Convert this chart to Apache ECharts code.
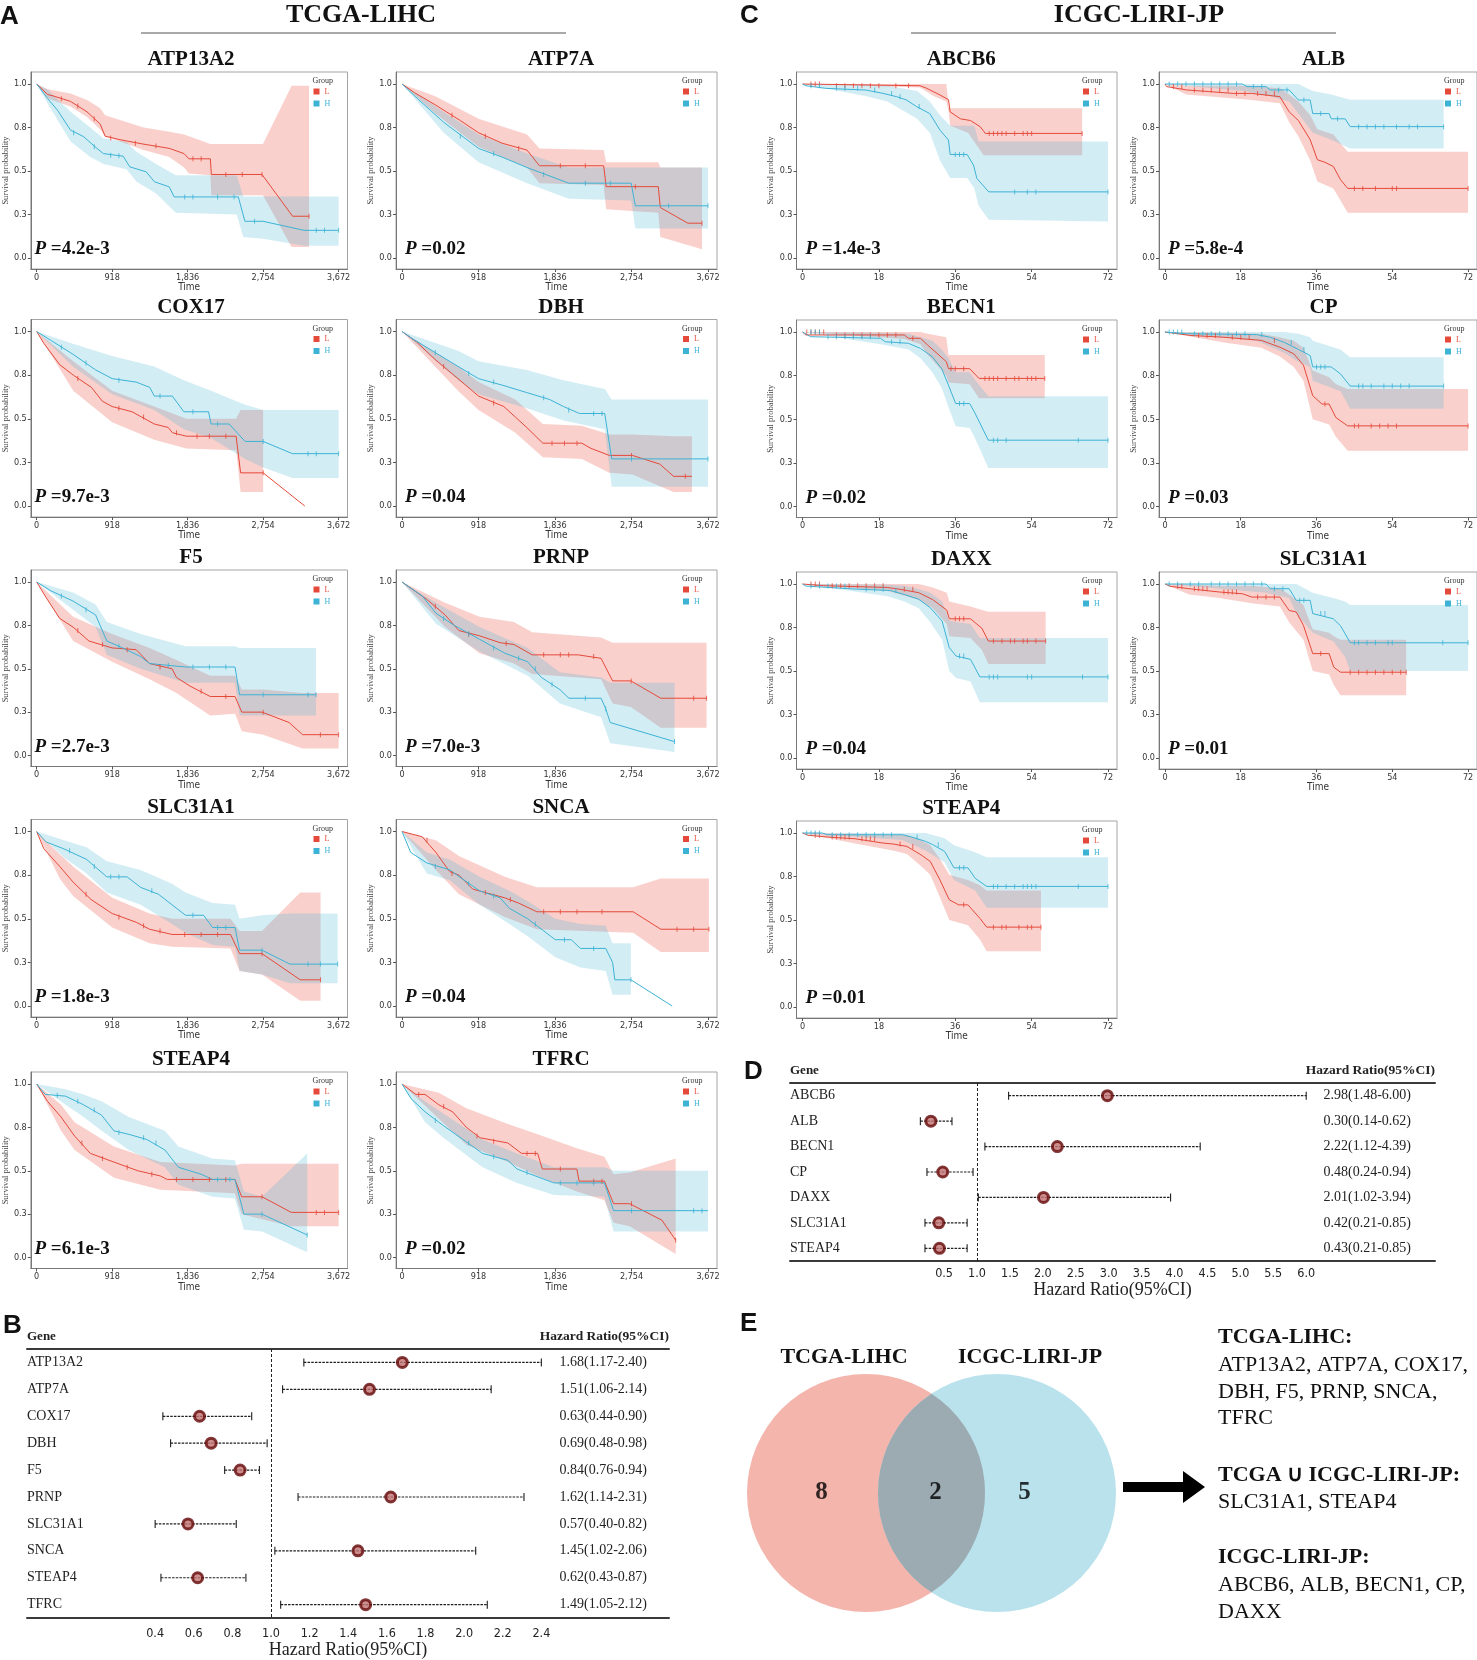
<!DOCTYPE html>
<html>
<head>
<meta charset="utf-8">
<script src="https://cdn.jsdelivr.net/npm/echarts@6/dist/echarts.min.js"></script>
<style>
  html, body { margin: 0; background: #fff; }
  #main { width: 1477px; height: 1660px; }
</style>
</head>
<body>
<div id="main"></div>
<script>
// ---------- KM data : line = [time, surv], ci = [time, lower, upper], cens = [time, surv] ----------
// TCGA-LIHC (days)
const t_atp13a2_L = [[0,1],[132,0.94],[212,0.93],[412,0.90],[612,0.84],[772,0.77],[832,0.70],[1012,0.68],[1292,0.655],[1612,0.63],[1792,0.60],[1852,0.57],[2112,0.57],[2124,0.48],[2740,0.48],[3112,0.24],[3312,0.24]];
const t_atp13a2_Lci = [[0,1,1],[132,0.917,0.97],[412,0.87,0.946],[612,0.81,0.908],[772,0.74,0.86],[832,0.70,0.82],[1300,0.62,0.75],[1612,0.58,0.725],[1792,0.52,0.71],[1852,0.486,0.70],[2112,0.476,0.655],[2124,0.36,0.655],[2752,0.36,0.655],[3100,0.063,0.99],[3312,0.063,0.99]];
const t_atp13a2_Lc = [[300,0.915],[500,0.874],[700,0.80],[900,0.69],[1200,0.66],[1450,0.643],[1900,0.57],[2000,0.57],[2300,0.48],[2500,0.48],[2740,0.48],[3312,0.24]];
const t_atp13a2_H = [[0,1],[132,0.917],[252,0.85],[412,0.735],[572,0.697],[732,0.63],[812,0.60],[1052,0.585],[1132,0.524],[1332,0.495],[1432,0.438],[1612,0.409],[1672,0.351],[2452,0.351],[2532,0.211],[2752,0.211],[3252,0.159],[3672,0.159]];
const t_atp13a2_Hci = [[0,1,1],[132,0.89,0.968],[412,0.67,0.84],[652,0.58,0.75],[812,0.54,0.687],[1092,0.51,0.667],[1212,0.44,0.61],[1452,0.37,0.54],[1692,0.26,0.476],[2432,0.25,0.476],[2512,0.12,0.354],[2752,0.11,0.354],[3252,0.07,0.354],[3672,0.07,0.354]];
const t_atp13a2_Hc = [[450,0.72],[700,0.64],[900,0.59],[1000,0.587],[1800,0.351],[1900,0.351],[2200,0.351],[2400,0.351],[2650,0.211],[3400,0.159],[3500,0.159],[3672,0.159]];

const t_atp7a_L = [[0,1],[150,0.95],[400,0.88],[700,0.79],[918,0.72],[1200,0.66],[1500,0.62],[1650,0.53],[2420,0.53],[2450,0.41],[3075,0.41],[3100,0.29],[3430,0.2],[3600,0.2]];
const t_atp7a_Lci = [[0,1,1],[400,0.83,0.93],[918,0.64,0.80],[1500,0.52,0.71],[1650,0.43,0.63],[2420,0.42,0.62],[2450,0.28,0.55],[3075,0.26,0.55],[3100,0.12,0.52],[3600,0.05,0.52]];
const t_atp7a_Lc = [[600,0.82],[1000,0.70],[1400,0.63],[1900,0.53],[2200,0.53],[2800,0.41],[3600,0.2]];
const t_atp7a_H = [[0,1],[200,0.91],[500,0.78],[918,0.63],[1200,0.58],[1500,0.52],[1836,0.46],[2000,0.43],[2750,0.43],[2800,0.3],[3672,0.3]];
const t_atp7a_Hci = [[0,1,1],[500,0.72,0.84],[918,0.55,0.71],[1500,0.43,0.60],[2000,0.34,0.52],[2750,0.33,0.52],[2800,0.17,0.52],[3672,0.17,0.52]];
const t_atp7a_Hc = [[700,0.70],[1100,0.60],[1700,0.48],[2200,0.43],[2500,0.43],[3200,0.3],[3672,0.3]];

const t_cox17_L = [[0,1],[90,0.93],[280,0.81],[445,0.75],[665,0.68],[800,0.60],[918,0.57],[1160,0.54],[1430,0.47],[1600,0.45],[1650,0.42],[1820,0.40],[2425,0.40],[2480,0.19],[2754,0.19],[3260,0]];
const t_cox17_Lci = [[0,1,1],[445,0.66,0.83],[918,0.48,0.66],[1430,0.38,0.57],[1820,0.33,0.50],[2425,0.32,0.50],[2480,0.08,0.55],[2754,0.08,0.55]];
const t_cox17_Lc = [[500,0.73],[1000,0.56],[1300,0.51],[1700,0.42],[1950,0.40],[2100,0.40],[2300,0.40],[2754,0.19]];
const t_cox17_H = [[0,1],[170,0.95],[440,0.87],[716,0.78],[918,0.73],[1210,0.71],[1375,0.68],[1430,0.63],[1650,0.63],[1790,0.54],[2090,0.54],[2120,0.47],[2340,0.47],[2535,0.37],[2754,0.37],[3110,0.30],[3672,0.30]];
const t_cox17_Hci = [[0,1,1],[440,0.80,0.93],[918,0.64,0.86],[1430,0.55,0.80],[1790,0.44,0.72],[2120,0.39,0.66],[2535,0.27,0.58],[2754,0.22,0.55],[3110,0.16,0.55],[3672,0.16,0.55]];
const t_cox17_Hc = [[300,0.91],[600,0.82],[1000,0.72],[1500,0.63],[1900,0.54],[2200,0.47],[2754,0.37],[3300,0.30],[3400,0.30],[3672,0.30]];

const t_dbh_L = [[0,1],[176,0.94],[396,0.84],[672,0.73],[918,0.63],[1222,0.57],[1360,0.51],[1497,0.45],[1690,0.36],[2158,0.36],[2268,0.33],[2488,0.29],[2763,0.29],[3094,0.24],[3259,0.17],[3479,0.17]];
const t_dbh_Lci = [[0,1,1],[672,0.66,0.80],[918,0.55,0.71],[1360,0.42,0.61],[1690,0.28,0.47],[2158,0.27,0.46],[2488,0.19,0.41],[2763,0.18,0.41],[3259,0.08,0.40],[3479,0.08,0.40]];
const t_dbh_Lc = [[500,0.80],[1100,0.59],[1800,0.36],[1950,0.36],[2100,0.36],[2754,0.29],[3400,0.17]];
const t_dbh_H = [[0,1],[120,0.96],[396,0.88],[672,0.80],[918,0.73],[1222,0.69],[1497,0.65],[1773,0.61],[1938,0.57],[2130,0.53],[2433,0.53],[2516,0.27],[3672,0.27]];
const t_dbh_Hci = [[0,1,1],[672,0.72,0.89],[918,0.64,0.83],[1497,0.56,0.78],[1938,0.49,0.72],[2433,0.44,0.67],[2516,0.11,0.61],[3672,0.11,0.61]];
const t_dbh_Hc = [[400,0.88],[800,0.76],[1100,0.71],[1700,0.62],[2000,0.55],[2300,0.53],[2400,0.53],[2754,0.27],[3672,0.27]];

const t_f5_L = [[0,1],[115,0.91],[280,0.79],[443,0.74],[635,0.66],[918,0.62],[1210,0.61],[1373,0.53],[1646,0.50],[1700,0.45],[1865,0.40],[2110,0.34],[2412,0.34],[2494,0.25],[2740,0.25],[3070,0.19],[3233,0.12],[3672,0.12]];
const t_f5_Lci = [[0,1,1],[443,0.66,0.80],[918,0.54,0.70],[1373,0.44,0.62],[1700,0.36,0.55],[2110,0.23,0.46],[2412,0.24,0.46],[2494,0.14,0.38],[2754,0.12,0.38],[3233,0.04,0.36],[3672,0.04,0.36]];
const t_f5_Lc = [[500,0.72],[800,0.64],[1100,0.61],[1500,0.51],[2000,0.37],[2300,0.34],[2754,0.25],[3450,0.12],[3672,0.12]];
const t_f5_H = [[0,1],[170,0.95],[443,0.89],[717,0.81],[853,0.66],[1045,0.62],[1264,0.57],[1373,0.53],[1810,0.51],[2412,0.51],[2467,0.35],[3397,0.35]];
const t_f5_Hci = [[0,1,1],[443,0.84,0.94],[717,0.74,0.87],[853,0.58,0.77],[1264,0.50,0.70],[1810,0.42,0.63],[2412,0.42,0.63],[2467,0.23,0.62],[3397,0.23,0.62]];
const t_f5_Hc = [[300,0.92],[600,0.84],[1000,0.63],[1600,0.52],[1900,0.51],[2100,0.51],[2300,0.51],[2754,0.35],[3300,0.35],[3397,0.35]];

const t_prnp_L = [[0,1],[297,0.90],[517,0.81],[683,0.72],[930,0.69],[1178,0.65],[1343,0.64],[1563,0.58],[2114,0.58],[2389,0.56],[2527,0.43],[2747,0.43],[3105,0.33],[3655,0.33]];
const t_prnp_Lci = [[0,1,1],[517,0.74,0.88],[930,0.59,0.80],[1343,0.53,0.77],[1563,0.47,0.71],[2389,0.44,0.68],[2527,0.30,0.65],[2747,0.28,0.65],[3105,0.16,0.65],[3655,0.16,0.65]];
const t_prnp_Lc = [[400,0.86],[800,0.70],[1250,0.645],[1700,0.58],[1900,0.58],[2000,0.58],[2300,0.57],[2750,0.43],[3500,0.33],[3655,0.33]];
const t_prnp_H = [[0,1],[242,0.92],[407,0.82],[627,0.75],[930,0.67],[1233,0.59],[1508,0.54],[1673,0.45],[1894,0.38],[2004,0.33],[2389,0.33],[2444,0.27],[2499,0.19],[3270,0.08]];
const t_prnp_Hci = [[0,1,1],[407,0.76,0.88],[930,0.60,0.74],[1508,0.46,0.62],[1894,0.30,0.48],[2389,0.22,0.45],[2499,0.07,0.42],[3270,0.02,0.42]];
const t_prnp_Hc = [[500,0.79],[800,0.70],[1100,0.62],[1400,0.56],[1600,0.50],[1800,0.41],[2200,0.33],[2444,0.27],[3270,0.08]];

const t_slc31a1_L = [[0,1],[88,0.90],[280,0.80],[443,0.71],[662,0.61],[918,0.53],[1210,0.48],[1373,0.44],[1646,0.41],[2357,0.41],[2467,0.30],[2740,0.30],[3205,0.15],[3452,0.15]];
const t_slc31a1_Lci = [[0,1,1],[280,0.73,0.87],[443,0.63,0.80],[918,0.45,0.62],[1373,0.36,0.53],[1646,0.34,0.50],[2357,0.33,0.50],[2467,0.20,0.43],[2740,0.18,0.43],[3205,0.03,0.65],[3452,0.03,0.65]];
const t_slc31a1_Lc = [[600,0.64],[1000,0.51],[1300,0.46],[1500,0.43],[1800,0.41],[2000,0.41],[2200,0.41],[2740,0.30],[3452,0.15]];
const t_slc31a1_H = [[0,1],[115,0.94],[334,0.90],[607,0.84],[853,0.74],[1100,0.74],[1264,0.68],[1482,0.64],[1646,0.58],[1810,0.52],[2030,0.52],[2139,0.45],[2412,0.45],[2467,0.32],[2740,0.32],[3080,0.24],[3660,0.24]];
const t_slc31a1_Hci = [[0,1,1],[334,0.85,0.95],[607,0.76,0.91],[853,0.65,0.83],[1264,0.58,0.78],[1646,0.47,0.70],[1810,0.42,0.65],[2139,0.35,0.59],[2412,0.34,0.58],[2467,0.20,0.50],[2740,0.18,0.52],[3080,0.13,0.53],[3660,0.13,0.53]];
const t_slc31a1_Hc = [[400,0.89],[700,0.80],[900,0.74],[1000,0.74],[1400,0.66],[1900,0.52],[2200,0.45],[2300,0.45],[2740,0.32],[3300,0.24],[3450,0.24],[3660,0.24]];

const t_snca_L = [[0,1],[242,0.97],[407,0.88],[572,0.77],[683,0.75],[848,0.67],[1233,0.62],[1398,0.59],[1618,0.54],[2774,0.54],[3105,0.44],[3683,0.44]];
const t_snca_Lci = [[0,1,1],[407,0.78,0.95],[683,0.64,0.86],[1233,0.51,0.74],[1618,0.44,0.68],[2774,0.42,0.68],[3105,0.31,0.73],[3683,0.31,0.73]];
const t_snca_Lc = [[300,0.95],[600,0.76],[1000,0.65],[1300,0.61],[1700,0.54],[1900,0.54],[2100,0.54],[2400,0.54],[3300,0.44],[3500,0.44],[3683,0.44]];
const t_snca_H = [[0,1],[105,0.88],[297,0.82],[572,0.78],[930,0.66],[1178,0.62],[1288,0.56],[1508,0.50],[1701,0.43],[1839,0.38],[2031,0.38],[2141,0.33],[2444,0.33],[2527,0.25],[2554,0.15],[2747,0.15],[3242,0]];
const t_snca_Hci = [[0,1,1],[297,0.76,0.88],[572,0.72,0.84],[930,0.58,0.74],[1288,0.47,0.66],[1508,0.40,0.60],[1839,0.28,0.50],[2141,0.22,0.47],[2444,0.20,0.46],[2527,0.065,0.36],[2747,0.065,0.36]];
const t_snca_Hc = [[400,0.80],[800,0.70],[1100,0.63],[1600,0.47],[1950,0.38],[2300,0.33],[2747,0.15]];

const t_steap4_L = [[0,1],[132,0.90],[296,0.81],[461,0.70],[653,0.60],[939,0.55],[1230,0.50],[1504,0.47],[1587,0.45],[2410,0.45],[2493,0.35],[2740,0.35],[3096,0.26],[3672,0.26]];
const t_steap4_Lci = [[0,1,1],[296,0.73,0.88],[461,0.62,0.78],[939,0.46,0.64],[1504,0.39,0.55],[2410,0.37,0.53],[2493,0.25,0.54],[2740,0.22,0.54],[3096,0.18,0.54],[3672,0.18,0.54]];
const t_steap4_Lc = [[550,0.66],[800,0.57],[1100,0.52],[1400,0.48],[1700,0.45],[1900,0.45],[2100,0.45],[2300,0.45],[2740,0.35],[3400,0.26],[3500,0.26],[3672,0.26]];
const t_steap4_H = [[0,1],[104,0.94],[351,0.93],[571,0.88],[790,0.82],[939,0.73],[1120,0.71],[1340,0.68],[1559,0.62],[1724,0.52],[2000,0.48],[2136,0.45],[2410,0.45],[2520,0.25],[2740,0.25],[3289,0.13]];
const t_steap4_Hci = [[0,1,1],[351,0.88,0.97],[571,0.81,0.94],[790,0.73,0.90],[1120,0.62,0.81],[1559,0.52,0.73],[1724,0.42,0.64],[2136,0.35,0.57],[2410,0.34,0.56],[2520,0.16,0.38],[2740,0.15,0.35],[3289,0.03,0.60]];
const t_steap4_Hc = [[250,0.935],[500,0.90],[700,0.85],[1000,0.72],[1300,0.69],[1450,0.66],[2200,0.45],[2350,0.45],[2740,0.25],[3289,0.13]];

const t_tfrc_L = [[0,1],[166,0.94],[276,0.94],[442,0.88],[607,0.84],[773,0.75],[938,0.69],[1270,0.66],[1435,0.60],[1628,0.60],[1684,0.51],[2098,0.51],[2125,0.44],[2429,0.44],[2539,0.31],[2732,0.31],[3119,0.215],[3284,0.10]];
const t_tfrc_Lci = [[0,1,1],[442,0.80,0.95],[773,0.65,0.86],[1270,0.55,0.77],[1628,0.47,0.71],[2098,0.38,0.63],[2429,0.33,0.58],[2539,0.20,0.48],[2732,0.18,0.49],[3284,0.02,0.57]];
const t_tfrc_Lc = [[200,0.94],[500,0.87],[900,0.70],[1100,0.67],[1500,0.60],[1600,0.60],[1900,0.51],[2300,0.44],[2400,0.44],[2754,0.31],[3284,0.10]];
const t_tfrc_H = [[0,1],[110,0.915],[276,0.84],[497,0.76],[718,0.685],[966,0.60],[1270,0.56],[1380,0.51],[1600,0.47],[1822,0.43],[2429,0.43],[2539,0.27],[3672,0.27]];
const t_tfrc_Hci = [[0,1,1],[276,0.78,0.90],[497,0.69,0.83],[718,0.61,0.76],[966,0.52,0.68],[1380,0.43,0.60],[1822,0.36,0.52],[2429,0.35,0.52],[2539,0.15,0.50],[3672,0.15,0.50]];
const t_tfrc_Hc = [[400,0.79],[800,0.66],[1100,0.58],[1500,0.49],[1900,0.43],[2100,0.43],[2300,0.43],[2754,0.27],[3500,0.27],[3600,0.27]];

// ICGC-LIRI-JP (months)
const i_abcb6_L = [[0,1],[27.7,0.99],[29.3,0.975],[32.4,0.937],[34.4,0.91],[34.8,0.84],[37.2,0.80],[39.6,0.79],[41.9,0.754],[43.1,0.716],[65.9,0.716]];
const i_abcb6_Lci = [[0,1,1],[27.7,0.98,1],[31,0.93,1],[33.9,0.90,1],[34.5,0.83,0.86],[34.8,0.76,0.86],[39,0.72,0.86],[42.7,0.59,0.86],[65.9,0.59,0.86]];
const i_abcb6_Lc = [[2,1],[3,1],[4,1],[8,0.99],[10,0.99],[12,0.99],[14,0.99],[16,0.99],[18,0.99],[22,0.99],[25,0.99],[44,0.716],[45,0.716],[46,0.716],[47,0.716],[48,0.716],[50,0.716],[52,0.716],[53,0.716],[54,0.716],[65.9,0.716]];
const i_abcb6_H = [[0,1],[0.8,0.99],[5.5,0.975],[15,0.965],[19,0.946],[22.2,0.927],[24.5,0.908],[26.9,0.87],[30,0.83],[32.4,0.735],[34.4,0.678],[34.8,0.595],[38.8,0.595],[40.3,0.534],[41.1,0.457],[43.9,0.38],[72,0.38]];
const i_abcb6_Hci = [[0,1,1],[15,0.93,0.995],[20,0.90,0.99],[27,0.80,0.96],[30,0.72,0.90],[32.4,0.56,0.82],[34.8,0.46,0.76],[38.8,0.46,0.76],[40.5,0.40,0.76],[41.5,0.30,0.67],[43.9,0.22,0.67],[72,0.21,0.67]];
const i_abcb6_Hc = [[2,0.99],[4,0.99],[8,0.975],[10,0.975],[13,0.975],[17,0.965],[21,0.946],[23,0.927],[27.5,0.87],[36,0.595],[37,0.595],[38,0.595],[50,0.38],[53,0.38],[55,0.38],[72,0.38]];

const i_alb_L = [[0,1],[0.4,0.985],[5.1,0.966],[16.2,0.946],[20.6,0.946],[27.3,0.927],[29.5,0.84],[31.7,0.79],[34.5,0.68],[36.2,0.565],[38,0.55],[40,0.526],[41.7,0.45],[43.4,0.40],[72,0.40]];
const i_alb_Lci = [[0,1,1],[5,0.94,0.99],[20,0.91,0.99],[27.3,0.89,0.975],[29.5,0.78,0.94],[31.7,0.70,0.90],[34.5,0.56,0.82],[36.2,0.44,0.74],[40,0.40,0.71],[41.7,0.33,0.66],[43.4,0.26,0.61],[72,0.26,0.61]];
const i_alb_Lc = [[2,0.985],[4,0.985],[7,0.966],[9,0.966],[11,0.966],[13,0.966],[15,0.966],[17,0.946],[19,0.946],[22,0.946],[24,0.946],[26,0.946],[45,0.40],[47,0.40],[50,0.40],[54,0.40],[55,0.40],[72,0.40]];
const i_alb_H = [[0,1],[18.4,1],[19.5,0.985],[24,0.985],[25,0.966],[29.5,0.966],[31.7,0.908],[34.5,0.908],[35.1,0.83],[39,0.83],[39.5,0.80],[42.8,0.80],[44,0.755],[66.2,0.755]];
const i_alb_Hci = [[0,1,1],[19,0.96,1],[25,0.93,1],[29.5,0.90,1],[31.7,0.83,1],[35.1,0.72,0.96],[39.5,0.68,0.94],[44,0.63,0.91],[66.2,0.63,0.91]];
const i_alb_Hc = [[1,1],[3,1],[5,1],[7,1],[9,1],[11,1],[13,1],[15,1],[17,1],[21,0.985],[23,0.985],[27,0.966],[29,0.966],[33,0.908],[37,0.83],[41,0.80],[46,0.755],[48,0.755],[50,0.755],[52,0.755],[55,0.755],[58,0.755],[60,0.755],[66.2,0.755]];

const i_becn1_L = [[0,1],[0.8,0.983],[24,0.983],[25,0.964],[27.8,0.964],[29.5,0.925],[33.9,0.83],[34.4,0.79],[39.4,0.79],[41.6,0.734],[57.1,0.734]];
const i_becn1_Lci = [[0,1,1],[24,0.96,1],[27.8,0.93,1],[29.5,0.87,0.99],[33.9,0.75,0.97],[34.4,0.71,0.868],[39.4,0.70,0.868],[41.6,0.62,0.868],[57.1,0.62,0.868]];
const i_becn1_Lc = [[1,1],[2,1],[3,1],[4,1],[5,1],[8,0.983],[10,0.983],[12,0.983],[14,0.983],[16,0.983],[18,0.983],[20,0.983],[22,0.983],[26,0.964],[35,0.79],[36,0.79],[38,0.79],[43,0.734],[44,0.734],[45,0.734],[46,0.734],[48,0.734],[50,0.734],[51,0.734],[53,0.734],[54,0.734],[55,0.734],[57.1,0.734]];
const i_becn1_H = [[0,1],[1.9,0.973],[18.4,0.964],[19.5,0.944],[25,0.935],[27.8,0.906],[30.6,0.858],[32.8,0.79],[34.4,0.695],[36.1,0.59],[39.4,0.59],[40.5,0.542],[43.8,0.38],[72,0.38]];
const i_becn1_Hci = [[0,1,1],[18.4,0.93,0.995],[25,0.90,0.99],[27.8,0.85,0.97],[30.6,0.77,0.95],[32.8,0.68,0.90],[34.4,0.57,0.85],[36.1,0.46,0.77],[39.4,0.45,0.77],[40.5,0.40,0.73],[43.8,0.22,0.632],[72,0.22,0.632]];
const i_becn1_Hc = [[2,1],[3,1],[4,1],[6,0.973],[8,0.973],[10,0.973],[12,0.973],[14,0.973],[16,0.973],[21,0.944],[23,0.944],[37,0.59],[38,0.59],[45,0.38],[46,0.38],[48,0.38],[65,0.38],[72,0.38]];

const i_cp_L = [[0,1],[6.2,0.98],[14,0.97],[22.9,0.952],[27.3,0.913],[30.6,0.875],[32.9,0.81],[35.1,0.635],[37.3,0.587],[39,0.587],[40.6,0.51],[43.4,0.462],[72,0.462]];
const i_cp_Lci = [[0,1,1],[14,0.94,0.995],[22.9,0.91,0.99],[27.3,0.86,0.97],[30.6,0.80,0.95],[32.9,0.72,0.91],[35.1,0.50,0.78],[39,0.47,0.74],[40.6,0.40,0.70],[43.4,0.32,0.673],[72,0.32,0.673]];
const i_cp_Lc = [[8,0.98],[10,0.98],[12,0.98],[16,0.97],[18,0.97],[20,0.97],[26,0.952],[38,0.587],[45,0.462],[46,0.462],[49,0.462],[51,0.462],[53,0.462],[55,0.462],[72,0.462]];
const i_cp_H = [[0,1],[5.1,0.99],[21.8,0.985],[25,0.97],[28.4,0.94],[31.7,0.90],[34.5,0.865],[35.1,0.80],[39.5,0.80],[41.7,0.76],[44,0.69],[66.2,0.69]];
const i_cp_Hci = [[0,1,1],[21.8,0.95,1],[28.4,0.88,1],[31.7,0.83,0.99],[34.5,0.80,0.97],[35.1,0.72,0.95],[41.7,0.66,0.90],[44,0.56,0.856],[66.2,0.56,0.856]];
const i_cp_Hc = [[1,1],[2,1],[3,1],[4,1],[7,0.99],[9,0.99],[11,0.99],[13,0.99],[15,0.99],[17,0.99],[19,0.99],[23,0.985],[30,0.94],[33,0.90],[36,0.80],[37,0.80],[38,0.80],[46,0.69],[47,0.69],[49,0.69],[52,0.69],[54,0.69],[56,0.69],[58,0.69],[66.2,0.69]];

const i_daxx_L = [[0,1],[5,0.99],[20,0.98],[22.9,0.97],[27.4,0.95],[30.7,0.91],[34,0.85],[34.6,0.80],[39.6,0.80],[42.3,0.745],[43.8,0.672],[57.3,0.672]];
const i_daxx_Lci = [[0,1,1],[20,0.96,1],[27.4,0.91,1],[30.7,0.86,0.98],[34,0.77,0.95],[34.6,0.70,0.90],[39.6,0.69,0.87],[42.3,0.62,0.85],[43.8,0.54,0.84],[57.3,0.54,0.84]];
const i_daxx_Lc = [[2,1],[3,1],[4,1],[7,0.99],[9,0.99],[11,0.99],[13,0.99],[15,0.99],[17,0.99],[19,0.99],[24,0.97],[26,0.97],[36,0.80],[37,0.80],[38,0.80],[45,0.672],[47,0.672],[49,0.672],[50,0.672],[52,0.672],[53,0.672],[55,0.672],[57.3,0.672]];
const i_daxx_H = [[0,1],[0.8,0.988],[13,0.97],[20.7,0.963],[24,0.94],[27.4,0.912],[30.1,0.864],[32.9,0.787],[34.6,0.634],[36.2,0.586],[39.6,0.567],[41.8,0.466],[72,0.466]];
const i_daxx_Hci = [[0,1,1],[20,0.93,0.995],[24,0.90,0.99],[27.4,0.86,0.97],[30.1,0.78,0.95],[32.9,0.68,0.90],[34.6,0.50,0.79],[36.2,0.46,0.78],[39.6,0.44,0.77],[41.8,0.32,0.69],[72,0.32,0.69]];
const i_daxx_Hc = [[2,0.988],[4,0.988],[6,0.988],[8,0.988],[10,0.988],[15,0.97],[17,0.97],[19,0.97],[22,0.963],[37,0.586],[38,0.586],[44,0.466],[45,0.466],[46,0.466],[53,0.466],[54,0.466],[66,0.466],[72,0.466]];

const i_slc31a1_L = [[0,1],[1.2,0.987],[5.7,0.973],[12.9,0.954],[18.4,0.944],[20.6,0.925],[27.3,0.925],[29.5,0.848],[31.2,0.839],[32.9,0.762],[35.1,0.60],[39,0.60],[40.1,0.522],[41.7,0.493],[57.3,0.493]];
const i_slc31a1_Lci = [[0,1,1],[5.7,0.94,0.995],[12.9,0.92,0.99],[20.6,0.89,0.99],[27.3,0.87,0.975],[29.5,0.78,0.94],[32.9,0.68,0.88],[35.1,0.50,0.74],[39,0.48,0.72],[40.1,0.42,0.70],[41.7,0.36,0.68],[57.3,0.36,0.68]];
const i_slc31a1_Lc = [[3,0.987],[4,0.987],[7,0.973],[8,0.973],[9,0.973],[10,0.973],[14,0.954],[15,0.954],[16,0.954],[17,0.954],[22,0.925],[24,0.925],[26,0.925],[37,0.60],[44,0.493],[46,0.493],[48,0.493],[50,0.493],[52,0.493],[54,0.493],[56,0.493],[57.3,0.493]];
const i_slc31a1_H = [[0,1],[24,1],[25,0.973],[29.5,0.973],[31.2,0.906],[34.5,0.906],[35.1,0.83],[40,0.80],[41.7,0.76],[42.8,0.714],[44,0.662],[72,0.662]];
const i_slc31a1_Hci = [[0,1,1],[24,0.95,1],[29.5,0.92,1],[31.2,0.83,1],[35.1,0.72,0.95],[40,0.67,0.92],[42.8,0.58,0.90],[44,0.50,0.88],[72,0.50,0.88]];
const i_slc31a1_Hc = [[1,1],[3,1],[6,1],[8,1],[11,1],[13,1],[15,1],[17,1],[19,1],[21,1],[23,1],[26,0.973],[28,0.973],[32,0.906],[33,0.906],[37,0.83],[38,0.83],[45,0.662],[46,0.662],[48,0.662],[50,0.662],[53,0.662],[54,0.662],[66,0.662],[72,0.662]];

const i_steap4_L = [[0,1],[1.3,0.987],[5.8,0.977],[12.4,0.967],[19,0.942],[21.3,0.937],[24.6,0.923],[27.9,0.875],[30.1,0.837],[32.4,0.73],[34.6,0.616],[36.8,0.587],[39,0.587],[41.8,0.51],[43.4,0.459],[56.2,0.459]];
const i_steap4_Lci = [[0,1,1],[12.4,0.94,0.995],[21.3,0.90,0.99],[24.6,0.88,0.99],[27.9,0.81,0.96],[30.1,0.76,0.93],[32.4,0.63,0.85],[34.6,0.50,0.76],[39,0.47,0.73],[41.8,0.39,0.70],[43.4,0.32,0.67],[56.2,0.32,0.67]];
const i_steap4_Lc = [[3,0.987],[4,0.987],[7,0.977],[8,0.977],[9,0.977],[10,0.977],[11,0.977],[14,0.967],[15,0.967],[16,0.967],[17,0.967],[23,0.937],[26,0.923],[38,0.587],[45,0.459],[47,0.459],[48,0.459],[51,0.459],[53,0.459],[54,0.459],[56.2,0.459]];
const i_steap4_H = [[0,1],[4.7,1],[5.8,0.99],[23.5,0.99],[25.7,0.977],[29,0.952],[30.7,0.933],[33.5,0.894],[35.7,0.80],[39,0.80],[40.7,0.74],[43.4,0.693],[72,0.693]];
const i_steap4_Hci = [[0,1,1],[23.5,0.96,1],[29,0.90,1],[33.5,0.83,0.97],[35.7,0.73,0.93],[40.7,0.67,0.89],[43.4,0.57,0.86],[72,0.57,0.86]];
const i_steap4_Hc = [[1,1],[2,1],[3,1],[4,1],[7,0.99],[9,0.99],[11,0.99],[13,0.99],[15,0.99],[17,0.99],[19,0.99],[21,0.99],[27,0.977],[32,0.933],[37,0.80],[38,0.80],[45,0.693],[46,0.693],[48,0.693],[50,0.693],[52,0.693],[53,0.693],[54,0.693],[55,0.693],[65,0.693],[72,0.693]];

// tick labels
const tcgaTicks = [0, 918, 1836, 2754, 3672];
const icgcTicks = [0, 18, 36, 54, 72];
const survTicks = [0, 0.25, 0.5, 0.75, 1];

// forest plots
const genesB = ['ATP13A2','ATP7A','COX17','DBH','F5','PRNP','SLC31A1','SNCA','STEAP4','TFRC'];
const hrB = [1.68, 1.51, 0.63, 0.69, 0.84, 1.62, 0.57, 1.45, 0.62, 1.49];
const loB = [1.17, 1.06, 0.44, 0.48, 0.76, 1.14, 0.40, 1.02, 0.43, 1.05];
const hiB = [2.40, 2.14, 0.90, 0.98, 0.94, 2.31, 0.82, 2.06, 0.87, 2.12];
const ticksB = [0.4, 0.6, 0.8, 1.0, 1.2, 1.4, 1.6, 1.8, 2.0, 2.2, 2.4];

const genesD = ['ABCB6','ALB','BECN1','CP','DAXX','SLC31A1','STEAP4'];
const hrD = [2.98, 0.30, 2.22, 0.48, 2.01, 0.42, 0.43];
const loD = [1.48, 0.14, 1.12, 0.24, 1.02, 0.21, 0.21];
const hiD = [6.00, 0.62, 4.39, 0.94, 3.94, 0.85, 0.85];
const ticksD = [0.5, 1.0, 1.5, 2.0, 2.5, 3.0, 3.5, 4.0, 4.5, 5.0, 5.5, 6.0];

// venn
const vennSets = ['TCGA-LIHC', 'ICGC-LIRI-JP'];
const vennCounts = [8, 2, 5];
const vennLists = [
  ['TCGA-LIHC:', 'ATP13A2, ATP7A, COX17,', 'DBH, F5, PRNP, SNCA,', 'TFRC'],
  ['TCGA \u222A ICGC-LIRI-JP:', 'SLC31A1, STEAP4'],
  ['ICGC-LIRI-JP:', 'ABCB6, ALB, BECN1, CP,', 'DAXX']
];

// ---------- layout ----------
const RED = '#e5493a', BLUE = '#3cb3d5';
const RED_CI = 'rgba(236,100,85,0.30)', BLUE_CI = 'rgba(70,180,215,0.24)';
const NARROW = "'Liberation Sans Narrow','DejaVu Sans Condensed',sans-serif";
const SERIF = "'Liberation Serif','Times New Roman',serif";
const SANS = "'Liberation Sans',Arial,sans-serif";

const tcgaCols = [{x0: 31.5, x1: 338.5}, {x0: 402, x1: 708}];
const tcgaRows = [{y1: 84, y0: 258}, {y1: 331.5, y0: 506}, {y1: 582, y0: 755.5}, {y1: 831.5, y0: 1006}, {y1: 1084, y0: 1257.5}];
const icgcCols = [{x0: 802.5, x1: 1108}, {x0: 1165, x1: 1470}];
const icgcRows = [{y1: 84, y0: 258}, {y1: 332, y0: 506.5}, {y1: 584, y0: 758}, {y1: 833, y0: 1007}];

const tcgaPlots = [
  {gene: 'ATP13A2', p: '4.2e-3', L: t_atp13a2_L, Lci: t_atp13a2_Lci, Lc: t_atp13a2_Lc, H: t_atp13a2_H, Hci: t_atp13a2_Hci, Hc: t_atp13a2_Hc},
  {gene: 'ATP7A', p: '0.02', L: t_atp7a_L, Lci: t_atp7a_Lci, Lc: t_atp7a_Lc, H: t_atp7a_H, Hci: t_atp7a_Hci, Hc: t_atp7a_Hc},
  {gene: 'COX17', p: '9.7e-3', L: t_cox17_L, Lci: t_cox17_Lci, Lc: t_cox17_Lc, H: t_cox17_H, Hci: t_cox17_Hci, Hc: t_cox17_Hc},
  {gene: 'DBH', p: '0.04', L: t_dbh_L, Lci: t_dbh_Lci, Lc: t_dbh_Lc, H: t_dbh_H, Hci: t_dbh_Hci, Hc: t_dbh_Hc},
  {gene: 'F5', p: '2.7e-3', L: t_f5_L, Lci: t_f5_Lci, Lc: t_f5_Lc, H: t_f5_H, Hci: t_f5_Hci, Hc: t_f5_Hc},
  {gene: 'PRNP', p: '7.0e-3', L: t_prnp_L, Lci: t_prnp_Lci, Lc: t_prnp_Lc, H: t_prnp_H, Hci: t_prnp_Hci, Hc: t_prnp_Hc},
  {gene: 'SLC31A1', p: '1.8e-3', L: t_slc31a1_L, Lci: t_slc31a1_Lci, Lc: t_slc31a1_Lc, H: t_slc31a1_H, Hci: t_slc31a1_Hci, Hc: t_slc31a1_Hc},
  {gene: 'SNCA', p: '0.04', L: t_snca_L, Lci: t_snca_Lci, Lc: t_snca_Lc, H: t_snca_H, Hci: t_snca_Hci, Hc: t_snca_Hc},
  {gene: 'STEAP4', p: '6.1e-3', L: t_steap4_L, Lci: t_steap4_Lci, Lc: t_steap4_Lc, H: t_steap4_H, Hci: t_steap4_Hci, Hc: t_steap4_Hc},
  {gene: 'TFRC', p: '0.02', L: t_tfrc_L, Lci: t_tfrc_Lci, Lc: t_tfrc_Lc, H: t_tfrc_H, Hci: t_tfrc_Hci, Hc: t_tfrc_Hc}
];
const icgcPlots = [
  {gene: 'ABCB6', p: '1.4e-3', L: i_abcb6_L, Lci: i_abcb6_Lci, Lc: i_abcb6_Lc, H: i_abcb6_H, Hci: i_abcb6_Hci, Hc: i_abcb6_Hc},
  {gene: 'ALB', p: '5.8e-4', L: i_alb_L, Lci: i_alb_Lci, Lc: i_alb_Lc, H: i_alb_H, Hci: i_alb_Hci, Hc: i_alb_Hc},
  {gene: 'BECN1', p: '0.02', L: i_becn1_L, Lci: i_becn1_Lci, Lc: i_becn1_Lc, H: i_becn1_H, Hci: i_becn1_Hci, Hc: i_becn1_Hc},
  {gene: 'CP', p: '0.03', L: i_cp_L, Lci: i_cp_Lci, Lc: i_cp_Lc, H: i_cp_H, Hci: i_cp_Hci, Hc: i_cp_Hc},
  {gene: 'DAXX', p: '0.04', L: i_daxx_L, Lci: i_daxx_Lci, Lc: i_daxx_Lc, H: i_daxx_H, Hci: i_daxx_Hci, Hc: i_daxx_Hc},
  {gene: 'SLC31A1', p: '0.01', L: i_slc31a1_L, Lci: i_slc31a1_Lci, Lc: i_slc31a1_Lc, H: i_slc31a1_H, Hci: i_slc31a1_Hci, Hc: i_slc31a1_Hc},
  {gene: 'STEAP4', p: '0.01', L: i_steap4_L, Lci: i_steap4_Lci, Lc: i_steap4_Lc, H: i_steap4_H, Hci: i_steap4_Hci, Hc: i_steap4_Hc}
];

const grid = [], xAxis = [], yAxis = [], series = [], legend = [], graphic = [];

function text(x, y, str, font, opts) {
  const o = Object.assign({align: 'left', verticalAlign: 'middle', fill: '#111'}, opts || {});
  graphic.push({type: 'text', x: x, y: y, silent: true, z: 50, style: {
    text: str, font: font, fill: o.fill, align: o.align, verticalAlign: o.verticalAlign,
    textAlign: o.align, textVerticalAlign: o.verticalAlign, rich: o.rich
  }});
}

function bandSeries(xi, yi, ci, color, z) {
  return {
    type: 'custom', xAxisIndex: xi, yAxisIndex: yi, z: z, silent: true, clip: true,
    data: [[ci[0][0], ci[0][1]]],
    renderItem: function (params, api) {
      const top = ci.map(r => api.coord([r[0], r[2]]));
      const bot = ci.slice().reverse().map(r => api.coord([r[0], r[1]]));
      return {type: 'polygon', shape: {points: top.concat(bot)}, style: {fill: color}};
    }
  };
}

function addKm(d, c, r, ticks, nameGap) {
  const tMax = ticks[ticks.length - 1];
  const gi = grid.length, xi = xAxis.length, yi = yAxis.length;
  const ppx = (c.x1 - c.x0) / tMax, ppy = r.y0 - r.y1;
  grid.push({left: c.x0 - 6, top: r.y1 - 12, width: c.x1 - c.x0 + 15, height: ppy + 23,
    show: true, borderColor: '#a5a5a5', borderWidth: 1, backgroundColor: 'transparent'});
  xAxis.push({
    gridIndex: gi, type: 'value', min: -6 / ppx, max: tMax + 9 / ppx,
    axisLine: {show: true, onZero: false, lineStyle: {color: '#777', width: 1}},
    axisTick: {show: true, length: 3, customValues: ticks, lineStyle: {color: '#555'}},
    axisLabel: {customValues: ticks, formatter: v => Number(v).toLocaleString('en-US'), margin: 4,
      fontSize: 9, fontFamily: NARROW, color: '#333'},
    splitLine: {show: false},
    name: 'Time', nameLocation: 'middle', nameGap: 12,
    nameTextStyle: {fontSize: 10, fontFamily: NARROW, color: '#333'}
  });
  yAxis.push({
    gridIndex: gi, type: 'value', min: -11 / ppy, max: 1 + 12 / ppy,
    axisLine: {show: true, onZero: false, lineStyle: {color: '#777', width: 1}},
    axisTick: {show: true, length: 3, customValues: survTicks, lineStyle: {color: '#555'}},
    axisLabel: {customValues: survTicks, formatter: v => Number(v).toFixed(1), margin: 4,
      fontSize: 9, fontFamily: NARROW, color: '#333'},
    splitLine: {show: false},
    name: 'Survival probability', nameLocation: 'middle', nameGap: nameGap,
    nameTextStyle: {fontSize: 8.5, fontFamily: SERIF, color: '#444'}
  });
  series.push(bandSeries(xi, yi, d.Lci, RED_CI, 1));
  series.push(bandSeries(xi, yi, d.Hci, BLUE_CI, 2));
  [['L', d.L, d.Lc, RED], ['H', d.H, d.Hc, BLUE]].forEach(function (s) {
    series.push({type: 'line', name: s[0], xAxisIndex: xi, yAxisIndex: yi, data: s[1], z: 3,
      showSymbol: false, symbol: 'none', silent: true,
      lineStyle: {color: s[3], width: 1}, itemStyle: {color: s[3]}});
    series.push({type: 'scatter', name: s[0] + ' censored', xAxisIndex: xi, yAxisIndex: yi, data: s[2], z: 4,
      symbol: 'rect', symbolSize: [1, 5], silent: true, itemStyle: {color: s[3]}});
  });
  legend.push({
    left: c.x1 - 25, top: r.y1 + 3.5, orient: 'vertical', icon: 'rect', itemWidth: 6, itemHeight: 6, itemGap: 4,
    padding: 0, selectedMode: false,
    data: [{name: 'L', textStyle: {color: RED}}, {name: 'H', textStyle: {color: BLUE}}],
    textStyle: {fontSize: 8, fontFamily: SERIF}
  });
  text(c.x1 - 26, r.y1 - 3, 'Group', '8px ' + SERIF, {fill: '#333'});
  text((c.x0 + c.x1) / 2 + 6, r.y1 - 24, d.gene, 'bold 21px ' + SERIF, {align: 'center'});
  text(c.x0 + 3, r.y0 + 1, '{i|P} =' + d.p, 'bold 19px ' + SERIF, {verticalAlign: 'bottom',
    rich: {i: {fontStyle: 'italic', fontWeight: 'bold', fontSize: 19, fontFamily: SERIF}}});
}

tcgaPlots.forEach((d, k) => addKm(d, tcgaCols[k % 2], tcgaRows[Math.floor(k / 2)], tcgaTicks, 6));
icgcPlots.forEach((d, k) => addKm(d, icgcCols[k % 2], icgcRows[Math.floor(k / 2)], icgcTicks, 13));

function addForest(genes, hr, lo, hi, ticks, box) {
  const gi = grid.length, xi = xAxis.length, yi = yAxis.length;
  const labels = hr.map((v, i) => v.toFixed(2) + '(' + lo[i].toFixed(2) + '-' + hi[i].toFixed(2) + ')');
  grid.push({left: box.left, top: box.top, width: box.right - box.left, height: box.bottom - box.top});
  xAxis.push({
    gridIndex: gi, type: 'value', position: 'bottom', min: box.min, max: box.max,
    axisLine: {show: true, onZero: false, lineStyle: {color: '#3a3a3a', width: 2}},
    axisTick: {show: false},
    axisLabel: {customValues: ticks, formatter: v => Number(v).toFixed(1), margin: box.labelMargin,
      fontSize: 12.5, fontFamily: NARROW, color: '#222'},
    splitLine: {show: false},
    name: 'Hazard Ratio(95%CI)', nameLocation: 'middle', nameGap: box.nameGap,
    nameTextStyle: {fontSize: 18, fontFamily: SERIF, color: '#222'}
  });
  xAxis.push({
    gridIndex: gi, type: 'value', position: 'top', min: box.min, max: box.max,
    axisLine: {show: true, onZero: false, lineStyle: {color: '#3a3a3a', width: 2}},
    axisTick: {show: false}, axisLabel: {show: false}, splitLine: {show: false}
  });
  yAxis.push({
    gridIndex: gi, type: 'category', data: genes, inverse: true,
    axisLine: {show: false}, axisTick: {show: false}, splitLine: {show: false},
    axisLabel: {inside: true, margin: 0, fontSize: 14, fontFamily: SERIF, color: '#222'}
  });
  yAxis.push({
    gridIndex: gi, type: 'category', position: 'right', data: labels, inverse: true,
    axisLine: {show: false}, axisTick: {show: false}, splitLine: {show: false},
    axisLabel: {inside: true, margin: box.valueMargin, fontSize: 14, fontFamily: SERIF, color: '#222'}
  });
  series.push({
    type: 'custom', xAxisIndex: xi, yAxisIndex: yi, z: 3, silent: true,
    data: genes.map((g, i) => [lo[i], hi[i], i]),
    encode: {x: [0, 1], y: 2},
    renderItem: function (params, api) {
      const a = api.coord([api.value(0), api.value(2)]);
      const b = api.coord([api.value(1), api.value(2)]);
      const st = {stroke: '#1e1e1e', lineWidth: 1.1};
      return {type: 'group', children: [
        {type: 'line', shape: {x1: a[0], y1: a[1], x2: b[0], y2: b[1]}, style: {stroke: '#1e1e1e', lineWidth: 1.2, lineDash: [2.5, 1.2]}},
        {type: 'line', shape: {x1: a[0], y1: a[1] - 4, x2: a[0], y2: a[1] + 4}, style: st},
        {type: 'line', shape: {x1: b[0], y1: b[1] - 4, x2: b[0], y2: b[1] + 4}, style: st}
      ]};
    }
  });
  series.push({
    type: 'scatter', xAxisIndex: xi, yAxisIndex: yi, z: 5, silent: true,
    data: hr.map((v, i) => [v, i]), symbol: 'circle', symbolSize: 10,
    itemStyle: {color: '#c07070', borderColor: '#640808', borderWidth: 3},
    markLine: {silent: true, symbol: ['none', 'none'], label: {show: false},
      lineStyle: {type: [3, 2], color: '#222', width: 1}, data: [{xAxis: 1}]}
  });
  text(box.left, box.top - 12, 'Gene', 'bold 13px ' + SERIF, {fill: '#222'});
  text(box.right, box.top - 12, 'Hazard Ratio(95%CI)', 'bold 13.5px ' + SERIF, {align: 'right', fill: '#222'});
}

addForest(genesB, hrB, loB, hiB, ticksB,
  {left: 27, right: 669, top: 1349, bottom: 1624, min: -0.2636, max: 3.061, labelMargin: 9, nameGap: 19, valueMargin: 22});
addForest(genesD, hrD, loD, hiD, ticksD,
  {left: 790, right: 1435, top: 1083, bottom: 1261, min: -1.840, max: 7.956, labelMargin: 6, nameGap: 18, valueMargin: 24});

// ---------- Venn ----------
(function () {
  const gi = grid.length, xi = xAxis.length, yi = yAxis.length;
  const R = 119;
  // grid spans 700..1200 px; circle centres sit at x = 0 and x = 1 (866 and 997 px)
  grid.push({left: 700, top: 1443, width: 500, height: 100});
  xAxis.push({gridIndex: gi, type: 'value', min: -166 / 131, max: 334 / 131, show: false});
  yAxis.push({gridIndex: gi, type: 'value', min: -1, max: 1, show: false});
  series.push({
    type: 'scatter', xAxisIndex: xi, yAxisIndex: yi, z: 1, silent: true, symbolSize: 2 * R,
    data: [{value: [0, 0], itemStyle: {color: '#f1a399'}}, {value: [1, 0], itemStyle: {color: '#a7dbe8'}}]
  });
  series.push({
    type: 'custom', xAxisIndex: xi, yAxisIndex: yi, z: 2, silent: true, data: [[0, 0]],
    renderItem: function (params, api) {
      const c1 = api.coord([0, 0]), c2 = api.coord([1, 0]);
      const a = (c2[0] - c1[0]) / 2, h = Math.sqrt(R * R - a * a);
      const px = c1[0] + a, t = c1[1] - h, b = c1[1] + h;
      const d = 'M' + px + ',' + t + ' A' + R + ',' + R + ' 0 0,1 ' + px + ',' + b +
                ' A' + R + ',' + R + ' 0 0,1 ' + px + ',' + t + ' Z';
      return {type: 'path', shape: {pathData: d, x: c2[0] - R, y: t, width: c1[0] + R - (c2[0] - R), height: 2 * h},
        style: {fill: '#9cabb2'}};
    }
  });
  series.push({
    type: 'scatter', xAxisIndex: xi, yAxisIndex: yi, z: 3, silent: true, symbolSize: 1,
    itemStyle: {color: 'transparent'},
    data: [[-0.34, 0], [0.53, 0], [1.21, 0]].map((v, i) => ({value: v, name: String(vennCounts[i])})),
    label: {show: true, position: 'inside', formatter: '{b}', fontSize: 25, fontWeight: 'bold', fontFamily: SERIF, color: '#000'}
  });
})();

text(844, 1357, vennSets[0], 'bold 22px ' + SERIF, {align: 'center'});
text(1030, 1357, vennSets[1], 'bold 22px ' + SERIF, {align: 'center'});
graphic.push({type: 'polygon', silent: true, z: 50, shape: {points: [[1123, 1482], [1183, 1482], [1183, 1471], [1205, 1487], [1183, 1503], [1183, 1492], [1123, 1492]]}, style: {fill: '#000'}});
const listY = [[1337, 1365, 1392, 1418], [1475, 1502], [1557, 1585, 1612]];
vennLists.forEach((blk, i) => blk.forEach((line, j) => {
  text(1218, listY[i][j], line, (j === 0 ? 'bold ' : '') + '22px ' + SERIF, {fill: '#111'});
}));

// panel letters and headers
text(0, 17, 'A', 'bold 26px ' + SANS);
text(740, 16, 'C', 'bold 26px ' + SANS);
text(3, 1326, 'B', 'bold 26px ' + SANS);
text(744, 1072, 'D', 'bold 26px ' + SANS);
text(740, 1324, 'E', 'bold 26px ' + SANS);
text(361, 15, 'TCGA-LIHC', 'bold 26px ' + SERIF, {align: 'center'});
text(1139, 15, 'ICGC-LIRI-JP', 'bold 26px ' + SERIF, {align: 'center'});
graphic.push({type: 'line', silent: true, shape: {x1: 141, y1: 33, x2: 566, y2: 33}, style: {stroke: '#555', lineWidth: 1}});
graphic.push({type: 'line', silent: true, shape: {x1: 911, y1: 33, x2: 1336, y2: 33}, style: {stroke: '#555', lineWidth: 1}});

const chart = echarts.init(document.getElementById('main'), null, {renderer: 'canvas'});
chart.setOption({
  backgroundColor: '#fff',
  animation: false,
  grid: grid,
  xAxis: xAxis,
  yAxis: yAxis,
  legend: legend,
  series: series,
  graphic: {elements: graphic}
});
</script>
</body>
</html>
